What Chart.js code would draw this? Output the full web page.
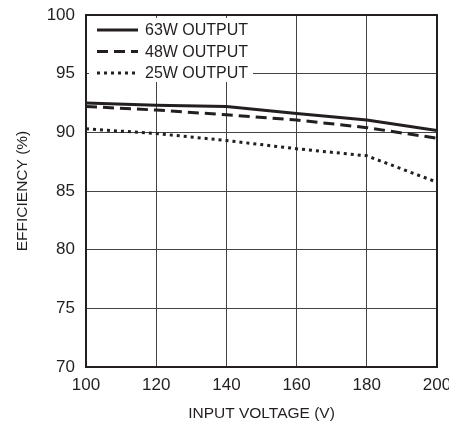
<!DOCTYPE html>
<html>
<head>
<meta charset="utf-8">
<script src="https://cdn.jsdelivr.net/npm/chart.js@4.4.1/dist/chart.umd.min.js"></script>
<style>
  html, body { margin: 0; padding: 0; background: #fff; }
  #wrap { width: 449px; height: 427px; }
</style>
</head>
<body>
<div id="wrap"><canvas id="effChart" width="449" height="427"></canvas></div>
<script>
// data
const inputVoltage = [100, 120, 140, 160, 180, 200];
const eff63W = [92.5, 92.3, 92.2, 91.6, 91.05, 90.15];
const eff48W = [92.2, 91.9, 91.5, 91.05, 90.4, 89.5];
const eff25W = [90.3, 89.9, 89.3, 88.6, 88.0, 85.75];
const seriesNames = ['63W OUTPUT', '48W OUTPUT', '25W OUTPUT'];
const xTicks = [100, 120, 140, 160, 180, 200];
const yTicks = [70, 75, 80, 85, 90, 95, 100];

const FONT = "'Liberation Sans', Arial, sans-serif";
const INK = '#231f20';

Chart.defaults.font.family = FONT;
Chart.defaults.color = INK;

const toPoints = (vals) => vals.map((v, i) => ({ x: inputVoltage[i], y: v }));

// legend drawn inside the plot, on a white box
const insideLegend = {
    id: 'insideLegend',
    afterDatasetsDraw(chart) {
        const c = chart.ctx;
        const area = chart.chartArea;
        c.save();
        c.fillStyle = '#fff';
        c.fillRect(area.left + 3, area.top + 3, 164, 64);
        const rows = [30, 51.5, 73];
        chart.data.datasets.forEach((ds, i) => {
            const y = rows[i];
            c.strokeStyle = INK;
            c.lineWidth = ds.borderWidth;
            c.setLineDash(ds.borderDash || []);
            c.beginPath();
            c.moveTo(97, y);
            c.lineTo(138, y);
            c.stroke();
            c.setLineDash([]);
            c.fillStyle = INK;
            c.font = "16px " + FONT;
            c.textBaseline = 'middle';
            c.textAlign = 'left';
            c.fillText(ds.label, 145, y + 1);
        });
        // frame round the plot
        c.strokeStyle = INK;
        c.lineWidth = 2;
        c.strokeRect(area.left, area.top, area.right - area.left, area.bottom - area.top);
        c.restore();
    }
};

const ctx = document.getElementById('effChart').getContext('2d');
const effChart = new Chart(ctx, {
    type: 'line',
    data: {
        datasets: [{
            label: seriesNames[0],
            data: toPoints(eff63W),
            borderColor: INK,
            borderWidth: 3,
            pointRadius: 0,
            tension: 0
        }, {
            label: seriesNames[1],
            data: toPoints(eff48W),
            borderColor: INK,
            borderWidth: 3,
            borderDash: [11, 6],
            pointRadius: 0,
            tension: 0
        }, {
            label: seriesNames[2],
            data: toPoints(eff25W),
            borderColor: INK,
            borderWidth: 3,
            borderDash: [3, 4],
            pointRadius: 0,
            tension: 0
        }]
    },
    options: {
        responsive: false,
        animation: false,
        layout: { padding: { top: 15, right: 12, left: 0, bottom: 0 } },
        plugins: {
            legend: { display: false },
            tooltip: { enabled: false }
        },
        scales: {
            x: {
                type: 'linear',
                min: 100,
                max: 200,
                afterBuildTicks: (s) => { s.ticks = xTicks.map(v => ({ value: v })); },
                afterFit: (s) => { s.height = 60; s.paddingLeft = 0; s.paddingRight = 0; },
                ticks: { font: { size: 17 }, padding: 8, maxRotation: 0 },
                grid: { color: '#444', lineWidth: 1, drawTicks: false },
                border: { display: false },
                title: {
                    display: true,
                    text: 'INPUT VOLTAGE (V)',
                    font: { size: 15.5 },
                    padding: { top: 2, bottom: 4 }
                }
            },
            y: {
                min: 70,
                max: 100,
                afterBuildTicks: (s) => { s.ticks = yTicks.map(v => ({ value: v })); },
                afterFit: (s) => { s.width = 86; s.paddingTop = 0; s.paddingBottom = 0; },
                ticks: { font: { size: 17 }, padding: 11 },
                grid: { color: '#444', lineWidth: 1, drawTicks: false },
                border: { display: false },
                title: {
                    display: true,
                    text: 'EFFICIENCY (%)',
                    font: { size: 15.5 },
                    padding: { top: 13, bottom: 0 }
                }
            }
        }
    },
    plugins: [insideLegend]
});
</script>
</body>
</html>
